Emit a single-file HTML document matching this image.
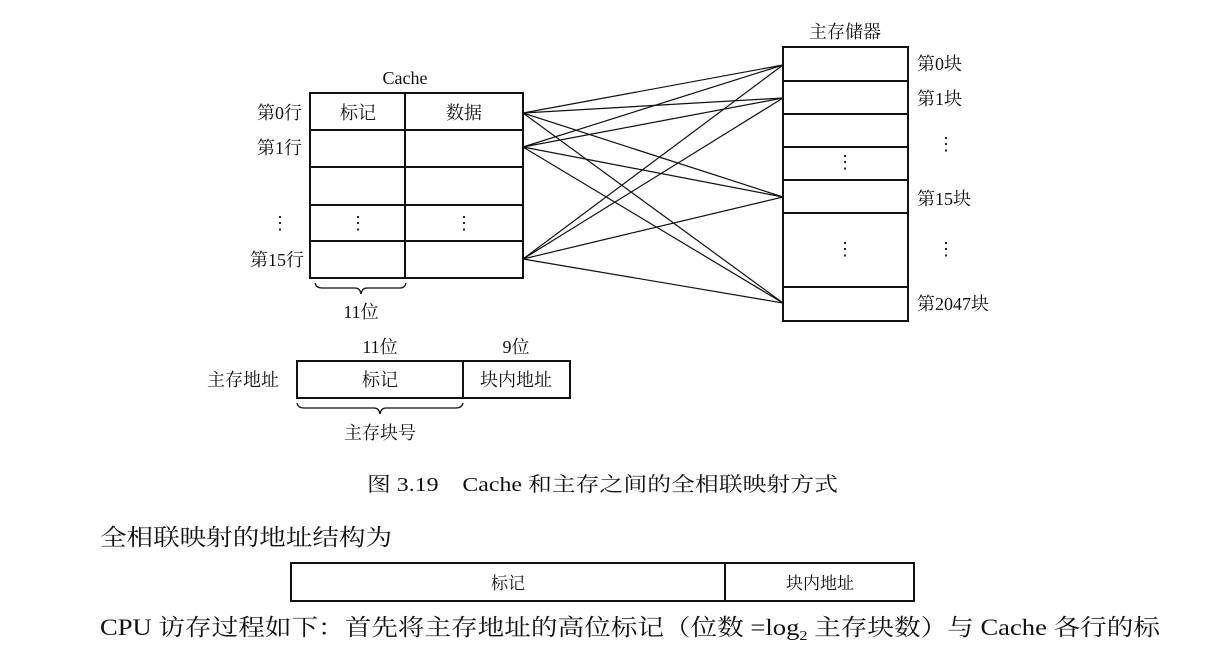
<!DOCTYPE html>
<html><head><meta charset="utf-8"><style>
html,body{margin:0;padding:0;background:#fff;}
svg{display:block;}
text{font-family:"Liberation Serif","Noto Serif CJK SC","Noto Sans CJK SC",serif;fill:#111;}
</style></head><body>
<svg width="1212" height="669" viewBox="0 0 1212 669" xmlns="http://www.w3.org/2000/svg">
<g stroke="#111" fill="none">
  <!-- Cache -->
  <rect x="310" y="93" width="213" height="185" stroke-width="2"/>
  <line x1="405" y1="93" x2="405" y2="278" stroke-width="2"/>
  <line x1="310" y1="130" x2="523" y2="130" stroke-width="2"/>
  <line x1="310" y1="167" x2="523" y2="167" stroke-width="2"/>
  <line x1="310" y1="205" x2="523" y2="205" stroke-width="2"/>
  <line x1="310" y1="241" x2="523" y2="241" stroke-width="2"/>
  <!-- Memory -->
  <rect x="783" y="47" width="125" height="274" stroke-width="2"/>
  <line x1="783" y1="81" x2="908" y2="81" stroke-width="2"/>
  <line x1="783" y1="114" x2="908" y2="114" stroke-width="2"/>
  <line x1="783" y1="147" x2="908" y2="147" stroke-width="2"/>
  <line x1="783" y1="180" x2="908" y2="180" stroke-width="2"/>
  <line x1="783" y1="213" x2="908" y2="213" stroke-width="2"/>
  <line x1="783" y1="287" x2="908" y2="287" stroke-width="2"/>
  <!-- connecting lines -->
  <g stroke-width="1.2">
    <line x1="523" y1="113" x2="783" y2="65"/><line x1="523" y1="113" x2="783" y2="98"/><line x1="523" y1="113" x2="783" y2="197"/><line x1="523" y1="113" x2="783" y2="303"/>
    <line x1="523" y1="147" x2="783" y2="65"/><line x1="523" y1="147" x2="783" y2="98"/><line x1="523" y1="147" x2="783" y2="197"/><line x1="523" y1="147" x2="783" y2="303"/>
    <line x1="523" y1="259" x2="783" y2="65"/><line x1="523" y1="259" x2="783" y2="98"/><line x1="523" y1="259" x2="783" y2="197"/><line x1="523" y1="259" x2="783" y2="303"/>
  </g>
  <!-- brace under cache tag -->
  <path d="M315 283 Q316 288 322 288 L355 288 Q360 288 361 294 Q362 288 367 288 L400 288 Q405 288 406 283" stroke-width="1.3"/>
  <!-- address box -->
  <rect x="297" y="361" width="273" height="37" stroke-width="2"/>
  <line x1="463" y1="361" x2="463" y2="398" stroke-width="2"/>
  <path d="M297 403 Q298 408 304 408 L374 408 Q379 408 380 414 Q381 408 386 408 L456 408 Q462 408 463 403" stroke-width="1.3"/>
  <!-- bottom table -->
  <rect x="291" y="563" width="623" height="38" stroke-width="2"/>
  <line x1="725" y1="563" x2="725" y2="601" stroke-width="2"/>
</g>
<g font-size="18">
  <text x="405" y="84" text-anchor="middle">Cache</text>
  <text x="257" y="119">第0行</text>
  <text x="257" y="154">第1行</text>
  <text x="250" y="266">第15行</text>
  <text x="358" y="119" text-anchor="middle">标记</text>
  <text x="464" y="119" text-anchor="middle">数据</text>
  <text x="280" y="229" text-anchor="middle">⋮</text>
  <text x="358" y="229" text-anchor="middle">⋮</text>
  <text x="464" y="229" text-anchor="middle">⋮</text>
  <text x="361" y="318" text-anchor="middle">11位</text>
  <text x="845" y="38" text-anchor="middle">主存储器</text>
  <text x="917" y="70">第0块</text>
  <text x="917" y="105">第1块</text>
  <text x="917" y="205">第15块</text>
  <text x="917" y="310">第2047块</text>
  <text x="946" y="150" text-anchor="middle">⋮</text>
  <text x="845" y="168" text-anchor="middle">⋮</text>
  <text x="845" y="255" text-anchor="middle">⋮</text>
  <text x="946" y="255" text-anchor="middle">⋮</text>
  <text x="380" y="353" text-anchor="middle">11位</text>
  <text x="516" y="353" text-anchor="middle">9位</text>
  <text x="207" y="386">主存地址</text>
  <text x="380" y="386" text-anchor="middle">标记</text>
  <text x="516" y="386" text-anchor="middle">块内地址</text>
  <text x="380" y="439" text-anchor="middle">主存块号</text>
</g>
<text x="367" y="491" font-size="20" textLength="471" lengthAdjust="spacingAndGlyphs">图 3.19　Cache 和主存之间的全相联映射方式</text>
<text x="100" y="545" font-size="23" textLength="292" lengthAdjust="spacingAndGlyphs">全相联映射的地址结构为</text>
<text x="508" y="589" font-size="17" text-anchor="middle">标记</text>
<text x="820" y="589" font-size="17" text-anchor="middle">块内地址</text>
<text x="100" y="635" font-size="23" textLength="1060" lengthAdjust="spacingAndGlyphs">CPU 访存过程如下：首先将主存地址的高位标记（位数 =log<tspan font-size="14" dy="5">2</tspan><tspan dy="-5"> 主存块数）与 Cache 各行的标</tspan></text>
</svg>
</body></html>
